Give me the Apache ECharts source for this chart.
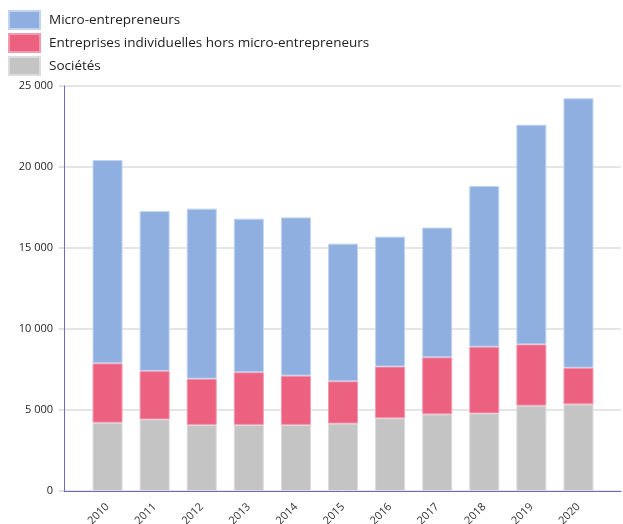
<!DOCTYPE html>
<html>
<head>
<meta charset="utf-8">
<script src="https://cdn.jsdelivr.net/npm/echarts@6/dist/echarts.min.js"></script>
<style>
  html, body { margin: 0; padding: 0; background: #fff; }
  #chart { width: 623px; height: 524px; }
</style>
</head>
<body>
<div id="chart"></div>
<script>
// Années
const years = ['2010', '2011', '2012', '2013', '2014', '2015', '2016', '2017', '2018', '2019', '2020'];

// Sociétés (bas de la pile)
const societes = [4220, 4420, 4080, 4080, 4080, 4160, 4490, 4730, 4790, 5270, 5350];
// Entreprises individuelles hors micro-entrepreneurs
const entreprisesIndividuelles = [3660, 2990, 2850, 3250, 3040, 2610, 3190, 3520, 4120, 3780, 2260];
// Micro-entrepreneurs (haut de la pile)
const microEntrepreneurs = [12550, 9870, 10500, 9480, 9770, 8500, 8020, 8010, 9920, 13560, 16630];

const yMax = 25000;
const yStep = 5000;

const FONT = '"Open Sans", "DejaVu Sans", sans-serif';
const AXIS_COLOR = '#6b6bc0';

function formatThousands(v) {
  return String(v).replace(/\B(?=(\d{3})+(?!\d))/g, ' ');
}

const chart = echarts.init(document.getElementById('chart'), null, { renderer: 'canvas' });

chart.setOption({
  animation: false,
  backgroundColor: '#ffffff',
  textStyle: { fontFamily: FONT },
  legend: {
    orient: 'vertical',
    left: 8,
    top: 10,
    padding: 0,
    itemWidth: 31,
    itemHeight: 18,
    itemGap: 3,
    icon: 'rect',
    textStyle: { fontSize: 13.5, color: '#222', fontFamily: FONT, padding: [0, 0, 0, 4], lineHeight: 18 },
    data: ['Micro-entrepreneurs', 'Entreprises individuelles hors micro-entrepreneurs', 'Sociétés']
  },
  grid: [
    // cadre : lignes d'axes, quadrillage et libellés des valeurs
    { left: 64, right: 2, top: 86, bottom: 33, containLabel: false, outerBoundsMode: 'none' },
    // barres et libellés des années
    { left: 84, right: 21, top: 86, bottom: 33, containLabel: false, outerBoundsMode: 'none' }
  ],
  xAxis: [
    {
      gridIndex: 0,
      type: 'value',
      min: 0,
      max: 1,
      axisLine: { show: true, lineStyle: { color: AXIS_COLOR, width: 1 } },
      axisTick: { show: false },
      axisLabel: { show: false },
      splitLine: { show: false }
    },
    {
      gridIndex: 1,
      type: 'category',
      data: years,
      axisLine: { show: false },
      axisTick: { show: false },
      axisLabel: {
        rotate: 45,
        margin: 14,
        fontSize: 11,
        color: '#333',
        fontFamily: FONT
      }
    }
  ],
  yAxis: [
    {
      gridIndex: 0,
      type: 'value',
      min: 0,
      max: yMax,
      interval: yStep,
      axisLine: { show: true, lineStyle: { color: AXIS_COLOR, width: 1 } },
      axisTick: { show: true, length: 5, lineStyle: { color: '#d6d6d6', width: 1.5 } },
      axisLabel: {
        margin: 11,
        fontSize: 11,
        color: '#262626',
        fontFamily: FONT,
        formatter: formatThousands
      },
      splitLine: { show: true, lineStyle: { color: '#dcdcdc', width: 1.5 } }
    },
    {
      gridIndex: 1,
      type: 'value',
      min: 0,
      max: yMax,
      interval: yStep,
      show: false,
      splitLine: { show: false }
    }
  ],
  series: [
    {
      name: 'Sociétés',
      type: 'bar',
      stack: 'total',
      xAxisIndex: 1,
      yAxisIndex: 1,
      barWidth: 30,
      data: societes,
      itemStyle: { color: '#c4c4c4', borderColor: '#dcdcdc', borderWidth: 1 }
    },
    {
      name: 'Entreprises individuelles hors micro-entrepreneurs',
      type: 'bar',
      stack: 'total',
      xAxisIndex: 1,
      yAxisIndex: 1,
      barWidth: 30,
      data: entreprisesIndividuelles,
      itemStyle: { color: '#ec6080', borderColor: '#f29ab0', borderWidth: 1 }
    },
    {
      name: 'Micro-entrepreneurs',
      type: 'bar',
      stack: 'total',
      xAxisIndex: 1,
      yAxisIndex: 1,
      barWidth: 30,
      data: microEntrepreneurs,
      itemStyle: { color: '#8eafdf', borderColor: '#c0d4f0', borderWidth: 1 }
    }
  ]
});
</script>
</body>
</html>
